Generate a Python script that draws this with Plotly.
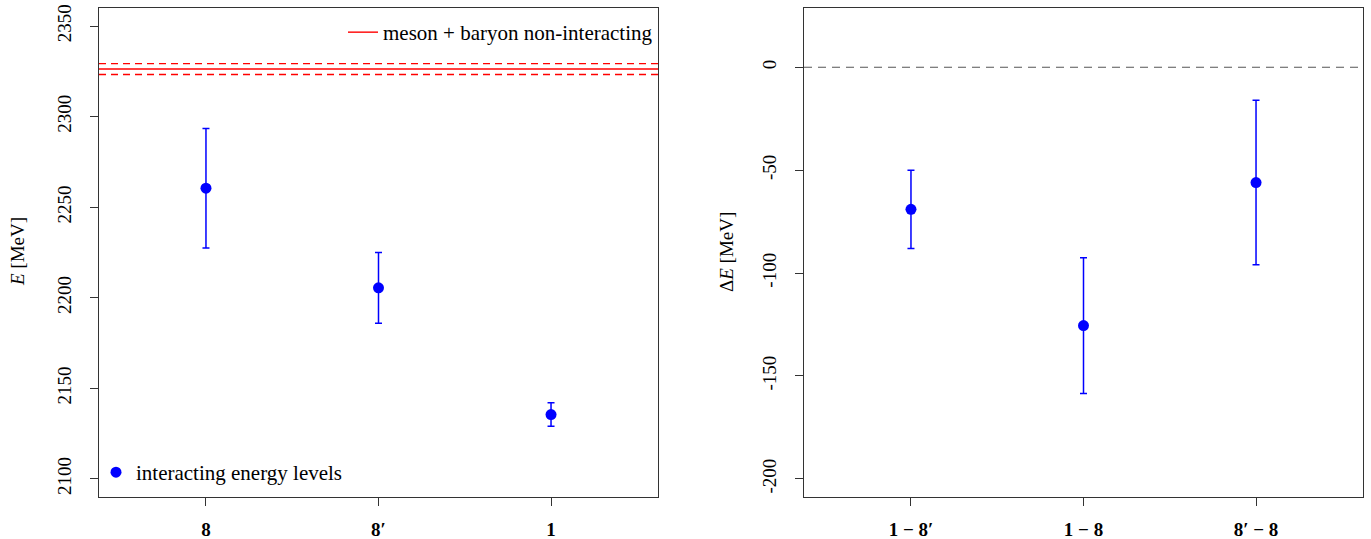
import plotly.graph_objects as go

# ---------------- data ----------------
left_labels = ["8", "8′", "1"]
left_E = [2260.5, 2205.5, 2135.5]
left_err = [33.0, 19.5, 6.5]
nonint_E = 2326.3
nonint_err = 3.0

right_labels = ["1 − 8′", "1 − 8", "8′ − 8"]
right_dE = [-69.0, -125.5, -56.0]
right_err = [19.0, 33.0, 40.0]

left_yticks = [2100, 2150, 2200, 2250, 2300, 2350]
right_yticks = [0, -50, -100, -150, -200]

# ---------------- layout constants ----------------
W, H = 1371, 539
XR = [0.38, 3.62]
FONT = "Liberation Serif, DejaVu Serif, serif"
FS = 19
LFS = 21
AXC = "#333333"
BLUE = "#0000ff"
RED = "#ff0000"

xpos = [1, 2, 3]

fig = go.Figure()

# left panel: non-interacting band
for val, dash, show in [(nonint_E, "solid", True),
                        (nonint_E + nonint_err, "7px,5px", False),
                        (nonint_E - nonint_err, "7px,5px", False)]:
    fig.add_trace(go.Scatter(x=XR, y=[val, val], mode="lines",
                             line=dict(color=RED, width=1.4, dash=dash),
                             name="meson + baryon non-interacting",
                             showlegend=show, legend="legend",
                             xaxis="x", yaxis="y", hoverinfo="skip"))

fig.add_trace(go.Scatter(x=xpos, y=left_E, mode="markers",
                         marker=dict(color=BLUE, size=11),
                         error_y=dict(type="data", array=left_err, color=BLUE,
                                      thickness=1.5, width=3.5),
                         name="interacting energy levels", legend="legend2",
                         xaxis="x", yaxis="y"))

# right panel
fig.add_trace(go.Scatter(x=XR, y=[0, 0], mode="lines",
                         line=dict(color="#555555", width=1.2, dash="8px,6px"),
                         showlegend=False, xaxis="x2", yaxis="y2", hoverinfo="skip"))
fig.add_trace(go.Scatter(x=xpos, y=right_dE, mode="markers",
                         marker=dict(color=BLUE, size=11),
                         error_y=dict(type="data", array=right_err, color=BLUE,
                                      thickness=1.5, width=3.5),
                         showlegend=False, xaxis="x2", yaxis="y2"))

ydom = [1 - 497 / H, 1 - 8 / H]
axis_common = dict(showline=True, mirror=True, linecolor=AXC, linewidth=1,
                   ticks="outside", ticklen=8, tickcolor=AXC, tickwidth=1,
                   showgrid=False, zeroline=False,
                   tickfont=dict(family=FONT, size=FS, color="#000"),
                   automargin=False)

fig.update_layout(
    width=W, height=H,
    margin=dict(l=0, r=0, t=0, b=0),
    paper_bgcolor="white", plot_bgcolor="white",
    font=dict(family=FONT, size=FS, color="#000"),
    xaxis=dict(domain=[99 / W, 658 / W], range=XR, tickvals=xpos,
               ticktext=[f"<b>{t}</b>" for t in left_labels],
               ticklabelstandoff=7, anchor="y", **axis_common),
    yaxis=dict(domain=ydom, range=[2090, 2360], tickvals=left_yticks,
               ticktext=[str(v) for v in left_yticks],
               tickangle=-90, ticklabelstandoff=11, anchor="x", **axis_common),
    xaxis2=dict(domain=[804 / W, 1363 / W], range=XR, tickvals=xpos,
                ticktext=[f"<b>{t}</b>" for t in right_labels],
                ticklabelstandoff=7, anchor="y2", **axis_common),
    yaxis2=dict(domain=ydom, range=[-208.8, 28.8], tickvals=right_yticks,
                ticktext=[str(v) for v in right_yticks],
                tickangle=-90, ticklabelstandoff=11, anchor="x2", **axis_common),
    legend=dict(x=658 / W, xanchor="right", y=1 - 12 / H, yanchor="top",
                bgcolor="rgba(0,0,0,0)", borderwidth=0,
                font=dict(family=FONT, size=LFS)),
    legend2=dict(x=96 / W, xanchor="left", y=1 - 493 / H, yanchor="bottom",
                 bgcolor="rgba(0,0,0,0)", borderwidth=0,
                 font=dict(family=FONT, size=LFS)),
    annotations=[
        dict(text="<i>E</i> [MeV]", x=18 / W, y=1 - 252 / H, xref="paper", yref="paper",
             xanchor="center", yanchor="middle",
             textangle=-90, showarrow=False, font=dict(family=FONT, size=FS)),
        dict(text="Δ<i>E</i> [MeV]", x=727 / W, y=1 - 252 / H, xref="paper", yref="paper",
             xanchor="center", yanchor="middle",
             textangle=-90, showarrow=False, font=dict(family=FONT, size=FS)),
    ],
)

fig.write_html("out.html")
